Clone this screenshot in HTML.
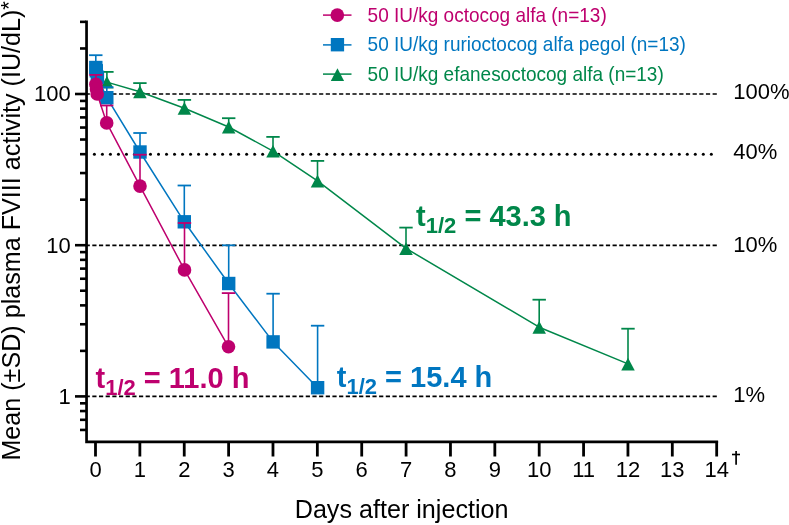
<!DOCTYPE html><html><head><meta charset="utf-8"><style>html,body{margin:0;padding:0;background:#fff;overflow:hidden}svg{display:block;will-change:transform}text{font-family:"Liberation Sans",sans-serif}</style></head><body><svg width="789" height="525" viewBox="0 0 789 525"><line x1="85.63" y1="94.0" x2="716.8" y2="94.0" stroke="#000" stroke-width="1.7" stroke-dasharray="4.2 2.47"/><line x1="85.63" y1="245.4" x2="716.8" y2="245.4" stroke="#000" stroke-width="1.7" stroke-dasharray="4.2 2.47"/><line x1="85.63" y1="396.4" x2="716.8" y2="396.4" stroke="#000" stroke-width="1.7" stroke-dasharray="4.2 2.47"/><g fill="#000"><circle cx="94.40" cy="154.3" r="1.5"/><circle cx="102.41" cy="154.3" r="1.5"/><circle cx="110.42" cy="154.3" r="1.5"/><circle cx="118.44" cy="154.3" r="1.5"/><circle cx="126.45" cy="154.3" r="1.5"/><circle cx="134.46" cy="154.3" r="1.5"/><circle cx="142.47" cy="154.3" r="1.5"/><circle cx="150.48" cy="154.3" r="1.5"/><circle cx="158.50" cy="154.3" r="1.5"/><circle cx="166.51" cy="154.3" r="1.5"/><circle cx="174.52" cy="154.3" r="1.5"/><circle cx="182.53" cy="154.3" r="1.5"/><circle cx="190.54" cy="154.3" r="1.5"/><circle cx="198.56" cy="154.3" r="1.5"/><circle cx="206.57" cy="154.3" r="1.5"/><circle cx="214.58" cy="154.3" r="1.5"/><circle cx="222.59" cy="154.3" r="1.5"/><circle cx="230.60" cy="154.3" r="1.5"/><circle cx="238.62" cy="154.3" r="1.5"/><circle cx="246.63" cy="154.3" r="1.5"/><circle cx="254.64" cy="154.3" r="1.5"/><circle cx="262.65" cy="154.3" r="1.5"/><circle cx="270.66" cy="154.3" r="1.5"/><circle cx="278.68" cy="154.3" r="1.5"/><circle cx="286.69" cy="154.3" r="1.5"/><circle cx="294.70" cy="154.3" r="1.5"/><circle cx="302.71" cy="154.3" r="1.5"/><circle cx="310.72" cy="154.3" r="1.5"/><circle cx="318.74" cy="154.3" r="1.5"/><circle cx="326.75" cy="154.3" r="1.5"/><circle cx="334.76" cy="154.3" r="1.5"/><circle cx="342.77" cy="154.3" r="1.5"/><circle cx="350.78" cy="154.3" r="1.5"/><circle cx="358.80" cy="154.3" r="1.5"/><circle cx="366.81" cy="154.3" r="1.5"/><circle cx="374.82" cy="154.3" r="1.5"/><circle cx="382.83" cy="154.3" r="1.5"/><circle cx="390.84" cy="154.3" r="1.5"/><circle cx="398.86" cy="154.3" r="1.5"/><circle cx="406.87" cy="154.3" r="1.5"/><circle cx="414.88" cy="154.3" r="1.5"/><circle cx="422.89" cy="154.3" r="1.5"/><circle cx="430.90" cy="154.3" r="1.5"/><circle cx="438.92" cy="154.3" r="1.5"/><circle cx="446.93" cy="154.3" r="1.5"/><circle cx="454.94" cy="154.3" r="1.5"/><circle cx="462.95" cy="154.3" r="1.5"/><circle cx="470.96" cy="154.3" r="1.5"/><circle cx="478.98" cy="154.3" r="1.5"/><circle cx="486.99" cy="154.3" r="1.5"/><circle cx="495.00" cy="154.3" r="1.5"/><circle cx="503.01" cy="154.3" r="1.5"/><circle cx="511.02" cy="154.3" r="1.5"/><circle cx="519.04" cy="154.3" r="1.5"/><circle cx="527.05" cy="154.3" r="1.5"/><circle cx="535.06" cy="154.3" r="1.5"/><circle cx="543.07" cy="154.3" r="1.5"/><circle cx="551.08" cy="154.3" r="1.5"/><circle cx="559.10" cy="154.3" r="1.5"/><circle cx="567.11" cy="154.3" r="1.5"/><circle cx="575.12" cy="154.3" r="1.5"/><circle cx="583.13" cy="154.3" r="1.5"/><circle cx="591.14" cy="154.3" r="1.5"/><circle cx="599.16" cy="154.3" r="1.5"/><circle cx="607.17" cy="154.3" r="1.5"/><circle cx="615.18" cy="154.3" r="1.5"/><circle cx="623.19" cy="154.3" r="1.5"/><circle cx="631.20" cy="154.3" r="1.5"/><circle cx="639.22" cy="154.3" r="1.5"/><circle cx="647.23" cy="154.3" r="1.5"/><circle cx="655.24" cy="154.3" r="1.5"/><circle cx="663.25" cy="154.3" r="1.5"/><circle cx="671.26" cy="154.3" r="1.5"/><circle cx="679.28" cy="154.3" r="1.5"/><circle cx="687.29" cy="154.3" r="1.5"/><circle cx="695.30" cy="154.3" r="1.5"/><circle cx="703.31" cy="154.3" r="1.5"/><circle cx="711.32" cy="154.3" r="1.5"/></g><path d="M106.9,82.1 L139.9,91.7 L184.4,108.3 L228.7,127.0 L273.0,151.1 L317.5,180.9 L406.0,248.4 L539.2,327.2 L628.0,363.9" fill="none" stroke="#00874A" stroke-width="1.5" stroke-linejoin="round"/><path d="M106.9,82.1 V71.9" stroke="#00874A" stroke-width="1.6" fill="none"/><path d="M100.2,71.9 H113.6" stroke="#00874A" stroke-width="1.8" fill="none"/><path d="M139.9,91.7 V83.1" stroke="#00874A" stroke-width="1.6" fill="none"/><path d="M133.2,83.1 H146.6" stroke="#00874A" stroke-width="1.8" fill="none"/><path d="M184.4,108.3 V99.9" stroke="#00874A" stroke-width="1.6" fill="none"/><path d="M177.7,99.9 H191.1" stroke="#00874A" stroke-width="1.8" fill="none"/><path d="M228.7,127.0 V118.2" stroke="#00874A" stroke-width="1.6" fill="none"/><path d="M222.0,118.2 H235.4" stroke="#00874A" stroke-width="1.8" fill="none"/><path d="M273.0,151.1 V136.9" stroke="#00874A" stroke-width="1.6" fill="none"/><path d="M266.3,136.9 H279.7" stroke="#00874A" stroke-width="1.8" fill="none"/><path d="M317.5,180.9 V160.9" stroke="#00874A" stroke-width="1.6" fill="none"/><path d="M310.8,160.9 H324.2" stroke="#00874A" stroke-width="1.8" fill="none"/><path d="M406.0,248.4 V227.6" stroke="#00874A" stroke-width="1.6" fill="none"/><path d="M399.3,227.6 H412.7" stroke="#00874A" stroke-width="1.8" fill="none"/><path d="M539.2,327.2 V299.7" stroke="#00874A" stroke-width="1.6" fill="none"/><path d="M532.5,299.7 H545.9" stroke="#00874A" stroke-width="1.8" fill="none"/><path d="M628.0,363.9 V328.7" stroke="#00874A" stroke-width="1.6" fill="none"/><path d="M621.3,328.7 H634.7" stroke="#00874A" stroke-width="1.8" fill="none"/><path d="M106.90,75.90 L113.65,88.60 L100.15,88.60 Z" fill="#00874A"/><path d="M139.90,85.50 L146.65,98.20 L133.15,98.20 Z" fill="#00874A"/><path d="M184.40,102.10 L191.15,114.80 L177.65,114.80 Z" fill="#00874A"/><path d="M228.70,120.80 L235.45,133.50 L221.95,133.50 Z" fill="#00874A"/><path d="M273.00,144.90 L279.75,157.60 L266.25,157.60 Z" fill="#00874A"/><path d="M317.50,174.70 L324.25,187.40 L310.75,187.40 Z" fill="#00874A"/><path d="M406.00,242.20 L412.75,254.90 L399.25,254.90 Z" fill="#00874A"/><path d="M539.20,321.00 L545.95,333.70 L532.45,333.70 Z" fill="#00874A"/><path d="M628.00,357.70 L634.75,370.40 L621.25,370.40 Z" fill="#00874A"/><path d="M95.8,67.5 L96.3,70.8 L97.4,77.3 L106.8,97.7 L140.0,152.0 L184.3,221.8 L228.7,283.5 L273.1,341.9 L317.6,387.7" fill="none" stroke="#0076C0" stroke-width="1.5" stroke-linejoin="round"/><path d="M95.8,67.5 V55.2" stroke="#0076C0" stroke-width="1.6" fill="none"/><path d="M89.1,55.2 H102.5" stroke="#0076C0" stroke-width="1.8" fill="none"/><path d="M106.8,97.7 V87.2" stroke="#0076C0" stroke-width="1.6" fill="none"/><path d="M100.1,87.2 H113.5" stroke="#0076C0" stroke-width="1.8" fill="none"/><path d="M140.0,152.0 V133.0" stroke="#0076C0" stroke-width="1.6" fill="none"/><path d="M133.3,133.0 H146.7" stroke="#0076C0" stroke-width="1.8" fill="none"/><path d="M184.3,221.8 V185.5" stroke="#0076C0" stroke-width="1.6" fill="none"/><path d="M177.6,185.5 H191.0" stroke="#0076C0" stroke-width="1.8" fill="none"/><path d="M228.7,283.5 V245.3" stroke="#0076C0" stroke-width="1.6" fill="none"/><path d="M222.0,245.3 H235.4" stroke="#0076C0" stroke-width="1.8" fill="none"/><path d="M273.1,341.9 V293.7" stroke="#0076C0" stroke-width="1.6" fill="none"/><path d="M266.4,293.7 H279.8" stroke="#0076C0" stroke-width="1.8" fill="none"/><path d="M317.6,387.7 V325.7" stroke="#0076C0" stroke-width="1.6" fill="none"/><path d="M310.9,325.7 H324.3" stroke="#0076C0" stroke-width="1.8" fill="none"/><rect x="89.1" y="60.8" width="13.4" height="13.4" fill="#0076C0"/><rect x="89.6" y="64.1" width="13.4" height="13.4" fill="#0076C0"/><rect x="90.7" y="70.6" width="13.4" height="13.4" fill="#0076C0"/><rect x="100.1" y="91.0" width="13.4" height="13.4" fill="#0076C0"/><rect x="133.3" y="145.3" width="13.4" height="13.4" fill="#0076C0"/><rect x="177.6" y="215.1" width="13.4" height="13.4" fill="#0076C0"/><rect x="222.0" y="276.8" width="13.4" height="13.4" fill="#0076C0"/><rect x="266.4" y="335.2" width="13.4" height="13.4" fill="#0076C0"/><rect x="310.9" y="381.0" width="13.4" height="13.4" fill="#0076C0"/><path d="M95.9,84.4 L96.5,89.0 L97.2,94.0 L106.7,122.9 L140.0,186.1 L184.5,269.9 L228.5,346.8" fill="none" stroke="#BE006E" stroke-width="1.5" stroke-linejoin="round"/><path d="M95.9,84.4 V74.9" stroke="#BE006E" stroke-width="1.6" fill="none"/><path d="M89.2,74.9 H102.6" stroke="#BE006E" stroke-width="1.8" fill="none"/><path d="M106.7,122.9 V105.5" stroke="#BE006E" stroke-width="1.6" fill="none"/><path d="M100.0,105.5 H113.4" stroke="#BE006E" stroke-width="1.8" fill="none"/><path d="M140.0,186.1 V154.7" stroke="#BE006E" stroke-width="1.6" fill="none"/><path d="M133.3,154.7 H146.7" stroke="#BE006E" stroke-width="1.8" fill="none"/><path d="M184.5,269.9 V223.0" stroke="#BE006E" stroke-width="1.6" fill="none"/><path d="M177.8,223.0 H191.2" stroke="#BE006E" stroke-width="1.8" fill="none"/><path d="M228.5,346.8 V293.1" stroke="#BE006E" stroke-width="1.6" fill="none"/><path d="M221.8,293.1 H235.2" stroke="#BE006E" stroke-width="1.8" fill="none"/><circle cx="95.9" cy="84.4" r="6.8" fill="#BE006E"/><circle cx="96.5" cy="89.0" r="6.8" fill="#BE006E"/><circle cx="97.2" cy="94.0" r="6.8" fill="#BE006E"/><circle cx="106.7" cy="122.9" r="6.8" fill="#BE006E"/><circle cx="140.0" cy="186.1" r="6.8" fill="#BE006E"/><circle cx="184.5" cy="269.9" r="6.8" fill="#BE006E"/><circle cx="228.5" cy="346.8" r="6.8" fill="#BE006E"/><g stroke="#000" fill="none"><path d="M86.55,20.4 V443.1 M85.2,441.8 H718.1" stroke-width="2.7"/><line x1="75" y1="396.40" x2="86" y2="396.40" stroke-width="2.6"/><line x1="75" y1="245.20" x2="86" y2="245.20" stroke-width="2.6"/><line x1="75" y1="94.00" x2="86" y2="94.00" stroke-width="2.6"/><line x1="80" y1="429.94" x2="86" y2="429.94" stroke-width="2.6"/><line x1="80" y1="419.82" x2="86" y2="419.82" stroke-width="2.6"/><line x1="80" y1="411.05" x2="86" y2="411.05" stroke-width="2.6"/><line x1="80" y1="403.32" x2="86" y2="403.32" stroke-width="2.6"/><line x1="80" y1="350.88" x2="86" y2="350.88" stroke-width="2.6"/><line x1="80" y1="324.26" x2="86" y2="324.26" stroke-width="2.6"/><line x1="80" y1="305.37" x2="86" y2="305.37" stroke-width="2.6"/><line x1="80" y1="290.72" x2="86" y2="290.72" stroke-width="2.6"/><line x1="80" y1="278.74" x2="86" y2="278.74" stroke-width="2.6"/><line x1="80" y1="268.62" x2="86" y2="268.62" stroke-width="2.6"/><line x1="80" y1="259.85" x2="86" y2="259.85" stroke-width="2.6"/><line x1="80" y1="252.12" x2="86" y2="252.12" stroke-width="2.6"/><line x1="80" y1="199.68" x2="86" y2="199.68" stroke-width="2.6"/><line x1="80" y1="173.06" x2="86" y2="173.06" stroke-width="2.6"/><line x1="80" y1="154.17" x2="86" y2="154.17" stroke-width="2.6"/><line x1="80" y1="139.52" x2="86" y2="139.52" stroke-width="2.6"/><line x1="80" y1="127.54" x2="86" y2="127.54" stroke-width="2.6"/><line x1="80" y1="117.42" x2="86" y2="117.42" stroke-width="2.6"/><line x1="80" y1="108.65" x2="86" y2="108.65" stroke-width="2.6"/><line x1="80" y1="100.92" x2="86" y2="100.92" stroke-width="2.6"/><line x1="80" y1="48.48" x2="86" y2="48.48" stroke-width="2.6"/><line x1="80" y1="21.86" x2="86" y2="21.86" stroke-width="2.6"/><line x1="95.50" y1="441" x2="95.50" y2="456.5" stroke-width="2.8"/><line x1="139.87" y1="441" x2="139.87" y2="456.5" stroke-width="2.8"/><line x1="184.24" y1="441" x2="184.24" y2="456.5" stroke-width="2.8"/><line x1="228.61" y1="441" x2="228.61" y2="456.5" stroke-width="2.8"/><line x1="272.98" y1="441" x2="272.98" y2="456.5" stroke-width="2.8"/><line x1="317.35" y1="441" x2="317.35" y2="456.5" stroke-width="2.8"/><line x1="361.72" y1="441" x2="361.72" y2="456.5" stroke-width="2.8"/><line x1="406.09" y1="441" x2="406.09" y2="456.5" stroke-width="2.8"/><line x1="450.46" y1="441" x2="450.46" y2="456.5" stroke-width="2.8"/><line x1="494.83" y1="441" x2="494.83" y2="456.5" stroke-width="2.8"/><line x1="539.20" y1="441" x2="539.20" y2="456.5" stroke-width="2.8"/><line x1="583.57" y1="441" x2="583.57" y2="456.5" stroke-width="2.8"/><line x1="627.94" y1="441" x2="627.94" y2="456.5" stroke-width="2.8"/><line x1="672.31" y1="441" x2="672.31" y2="456.5" stroke-width="2.8"/><line x1="716.68" y1="441" x2="716.68" y2="456.5" stroke-width="2.8"/><path d="M736.1,450.9 V464.7" stroke-width="1.7"/><path d="M732,454.5 H740" stroke-width="1.6"/></g><text transform="translate(70.80,101.40) scale(1,1.04)" font-size="22" fill="#000" text-anchor="end">100</text><text transform="translate(70.80,252.60) scale(1,1.04)" font-size="22" fill="#000" text-anchor="end">10</text><text transform="translate(70.80,403.80) scale(1,1.04)" font-size="22" fill="#000" text-anchor="end">1</text><text transform="translate(95.50,476.60) scale(1,1.04)" font-size="22" fill="#000" text-anchor="middle">0</text><text transform="translate(139.87,476.60) scale(1,1.04)" font-size="22" fill="#000" text-anchor="middle">1</text><text transform="translate(184.24,476.60) scale(1,1.04)" font-size="22" fill="#000" text-anchor="middle">2</text><text transform="translate(228.61,476.60) scale(1,1.04)" font-size="22" fill="#000" text-anchor="middle">3</text><text transform="translate(272.98,476.60) scale(1,1.04)" font-size="22" fill="#000" text-anchor="middle">4</text><text transform="translate(317.35,476.60) scale(1,1.04)" font-size="22" fill="#000" text-anchor="middle">5</text><text transform="translate(361.72,476.60) scale(1,1.04)" font-size="22" fill="#000" text-anchor="middle">6</text><text transform="translate(406.09,476.60) scale(1,1.04)" font-size="22" fill="#000" text-anchor="middle">7</text><text transform="translate(450.46,476.60) scale(1,1.04)" font-size="22" fill="#000" text-anchor="middle">8</text><text transform="translate(494.83,476.60) scale(1,1.04)" font-size="22" fill="#000" text-anchor="middle">9</text><text transform="translate(539.20,476.60) scale(1,1.04)" font-size="22" fill="#000" text-anchor="middle">10</text><text transform="translate(583.57,476.60) scale(1,1.04)" font-size="22" fill="#000" text-anchor="middle">11</text><text transform="translate(627.94,476.60) scale(1,1.04)" font-size="22" fill="#000" text-anchor="middle">12</text><text transform="translate(672.31,476.60) scale(1,1.04)" font-size="22" fill="#000" text-anchor="middle">13</text><text transform="translate(716.68,476.60) scale(1,1.04)" font-size="22" fill="#000" text-anchor="middle">14</text><text transform="translate(733.20,99.20) scale(1,1.04)" font-size="22" fill="#000">100%</text><text transform="translate(733.20,159.10) scale(1,1.04)" font-size="22" fill="#000">40%</text><text transform="translate(733.20,252.10) scale(1,1.04)" font-size="22" fill="#000">10%</text><text transform="translate(733.20,401.90) scale(1,1.04)" font-size="22" fill="#000">1%</text><text transform="translate(401.60,518.00) scale(1,1.04)" font-size="25.15" fill="#000" text-anchor="middle">Days after injection</text><text transform="translate(20.30,460.60) rotate(-90) scale(1,1.04)" font-size="25.15" fill="#000">Mean (±SD) plasma FVIII activity (IU/dL)<tspan font-size="22" dy="-4">*</tspan></text><g stroke-width="1.5"><line x1="323" y1="15.1" x2="351.5" y2="15.1" stroke="#BE006E"/><line x1="323" y1="44.9" x2="351.5" y2="44.9" stroke="#0076C0"/><line x1="323" y1="74.1" x2="351.5" y2="74.1" stroke="#00874A"/></g><circle cx="337.3" cy="15.1" r="6.85" fill="#BE006E"/><rect x="330.8" y="38" width="13.3" height="13.4" fill="#0076C0"/><path d="M337.45,68.2 L344.1,80.9 L330.8,80.9 Z" fill="#00874A"/><text transform="translate(367.60,21.80) scale(1,1.04)" font-size="19" fill="#BE006E">50 IU/kg octocog alfa (n=13)</text><text transform="translate(367.60,51.40) scale(1,1.04)" font-size="19" fill="#0076C0">50 IU/kg rurioctocog alfa pegol (n=13)</text><text transform="translate(367.60,80.90) scale(1,1.04)" font-size="19" fill="#00874A">50 IU/kg efanesoctocog alfa (n=13)</text><text transform="translate(95.50,388.30) scale(1,1.04)" font-size="29" fill="#BE006E" font-weight="bold">t<tspan font-size="22" dy="6.2">1/2</tspan><tspan dy="-6.2"> = 11.0 h</tspan></text><text transform="translate(336.80,387.30) scale(1,1.04)" font-size="29" fill="#0076C0" font-weight="bold">t<tspan font-size="22" dy="6.2">1/2</tspan><tspan dy="-6.2"> = 15.4 h</tspan></text><text transform="translate(416.10,226.20) scale(1,1.04)" font-size="29" fill="#00874A" font-weight="bold">t<tspan font-size="22" dy="6.2">1/2</tspan><tspan dy="-6.2"> = 43.3 h</tspan></text></svg></body></html>
